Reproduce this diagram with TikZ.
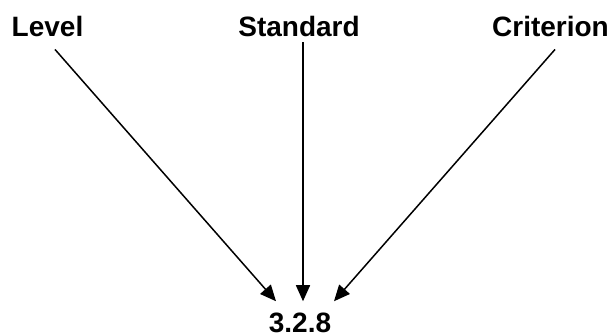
\documentclass[tikz,border=0pt]{standalone}
\usepackage{fontspec}
\setmainfont{Liberation Sans}
\usetikzlibrary{arrows.meta}

\begin{document}
\begin{tikzpicture}[
  x=1pt, y=-1pt,
  lbl/.style={font=\fontsize{28}{30}\selectfont\bfseries, inner sep=0pt, anchor=base},
  arr/.style={-{Triangle[length=16pt,width=14pt]}, line width=1.5pt, black}
]
\useasboundingbox (0,0) rectangle (613,336);
\node[lbl] (level) at (47.5,37) {Level};
\node[lbl] (standard) at (299,37) {Standard};
\node[lbl] (criterion) at (550.5,37) {Criterion};
\node[lbl] (code) at (300,333) {3.2.8};
\draw[arr] ([xshift=7.5pt,yshift=-12pt]level.south) -- ([xshift=-24pt,yshift=12pt]code.north);
\draw[arr] ([xshift=4pt,yshift=-5pt]standard.south) -- ([xshift=3pt,yshift=12pt]code.north);
\draw[arr] ([xshift=4.5pt,yshift=-12pt]criterion.south) -- ([xshift=34pt,yshift=12pt]code.north);
\end{tikzpicture}
\end{document}
